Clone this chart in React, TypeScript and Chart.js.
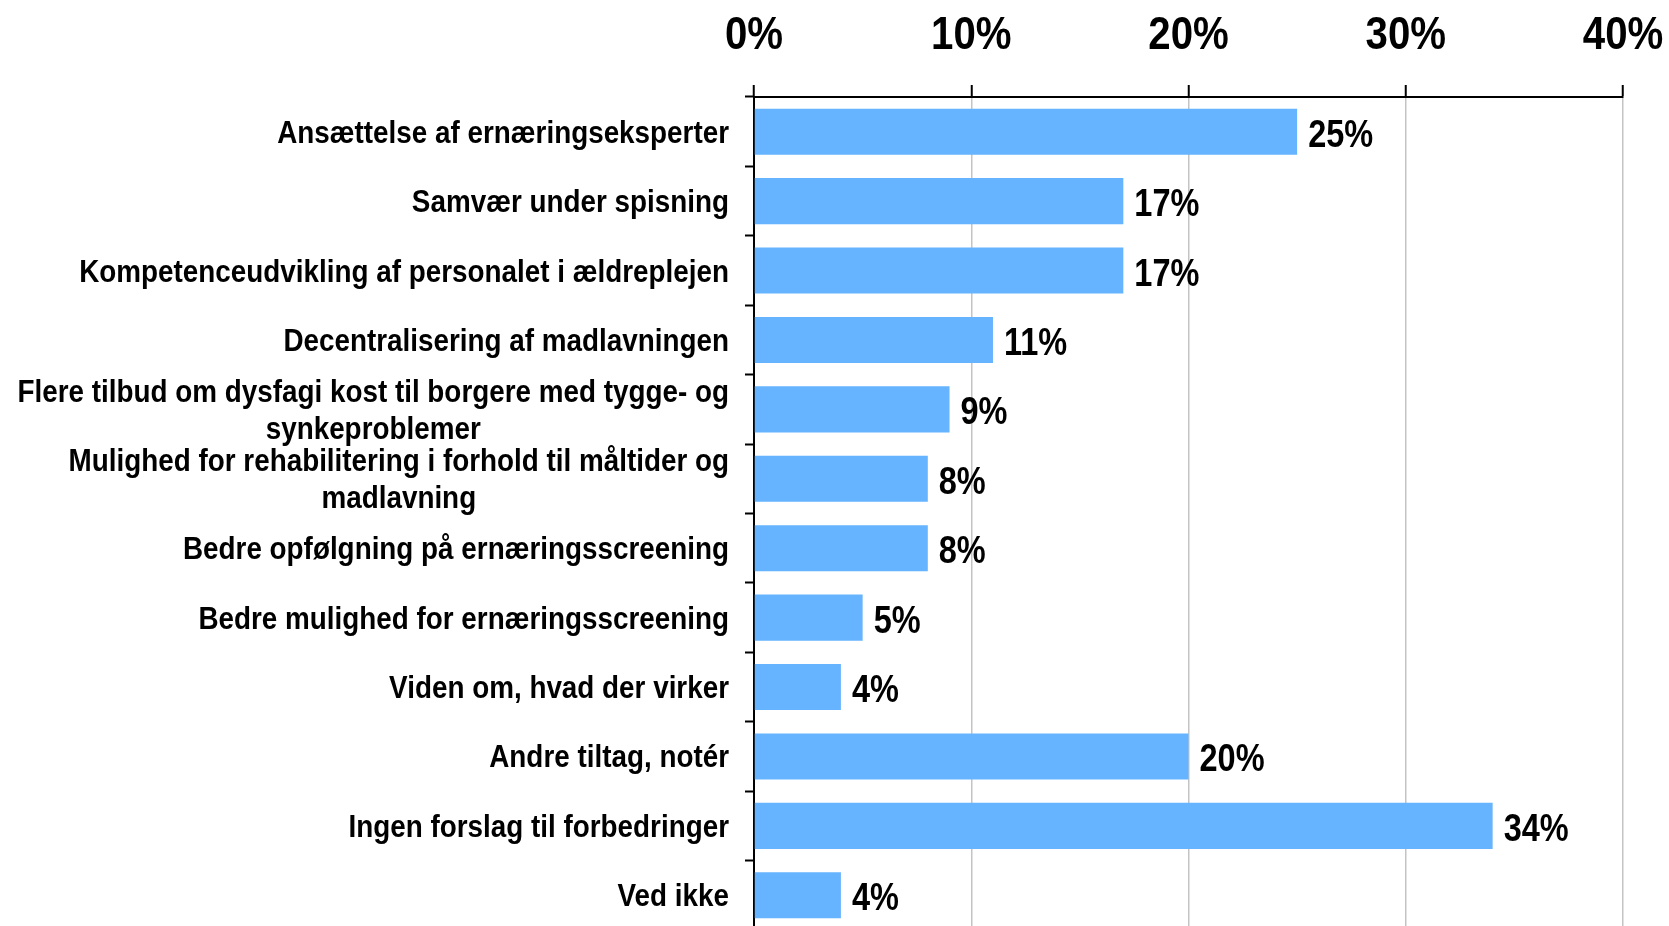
import React, { useEffect, useRef } from "react";
import { Chart, registerables } from "chart.js";

Chart.register(...registerables);

const categories: (string | string[])[] = [
  "Ansættelse af ernæringseksperter",
  "Samvær under spisning",
  "Kompetenceudvikling af personalet i ældreplejen",
  "Decentralisering af madlavningen",
  ["Flere tilbud om dysfagi kost til borgere med tygge- og", "synkeproblemer"],
  ["Mulighed for rehabilitering i forhold til måltider og", "madlavning"],
  "Bedre opfølgning på ernæringsscreening",
  "Bedre mulighed for ernæringsscreening",
  "Viden om, hvad der virker",
  "Andre tiltag, notér",
  "Ingen forslag til forbedringer",
  "Ved ikke",
];

const values = [25, 17, 17, 11, 9, 8, 8, 5, 4, 20, 34, 4];

const xMin = 0;
const xMax = 40;
const xStep = 10;
const xTickLabels = ["0%", "10%", "20%", "30%", "40%"];

const FAMILY = "'Liberation Sans', Arial, sans-serif";
const BAR_COLOR = "#66b3ff";
const SX = 0.855; // narrow (condensed) look for numbers
const SX_CAT = 0.87; // narrow look for category labels

function drawNarrow(ctx: any, text: string, x: number, y: number, align: "left" | "right" | "center", sx: number = SX) {
  ctx.save();
  ctx.translate(x, y);
  ctx.scale(sx, 1);
  ctx.textAlign = align;
  ctx.fillText(text, 0, 0);
  ctx.restore();
}

const textPlugin = {
  id: "textLabels",
  afterDraw(chart: any) {
    const ctx = chart.ctx;
    const yScale = chart.scales.y;
    const xScale = chart.scales.x;
    ctx.save();
    ctx.fillStyle = "#000";
    ctx.textBaseline = "alphabetic";

    // category labels (right-aligned block, lines centred within block)
    ctx.font = `bold 32px ${FAMILY}`;
    const rightEdge = chart.chartArea.left - 25;
    const lineH = 37;
    categories.forEach((label, i) => {
      const y = yScale.getPixelForTick(i);
      const lines = Array.isArray(label) ? label : [label];
      const maxW = Math.max(...lines.map((l) => ctx.measureText(l).width)) * SX_CAT;
      const cx = rightEdge - maxW / 2;
      lines.forEach((l, k) => {
        const by = y + 11 + (k - (lines.length - 1) / 2) * lineH;
        drawNarrow(ctx, l, cx, by, "center", SX_CAT);
      });
    });

    // x tick labels (top)
    ctx.font = `bold 47px ${FAMILY}`;
    xScale.ticks.forEach((t: any, i: number) => {
      const px = xScale.getPixelForValue(t.value);
      drawNarrow(ctx, xTickLabels[i] ?? t.value + "%", px, 49, "center");
    });
    ctx.restore();
  },
  afterDatasetsDraw(chart: any) {
    const ctx = chart.ctx;
    const meta = chart.getDatasetMeta(0);
    ctx.save();
    ctx.fillStyle = "#000";
    ctx.font = `bold 38px ${FAMILY}`;
    ctx.textBaseline = "alphabetic";
    meta.data.forEach((bar: any, i: number) => {
      drawNarrow(ctx, values[i] + "%", bar.x + 11, bar.y + 15, "left");
    });
    ctx.restore();
  },
};

export default function App() {
  const canvasRef = useRef<HTMLCanvasElement | null>(null);

  useEffect(() => {
    const canvas = canvasRef.current;
    if (!canvas) return;
    const chart = new Chart(canvas, {
      type: "bar",
      data: {
        labels: categories as any,
        datasets: [
          {
            data: values,
            backgroundColor: BAR_COLOR,
            borderWidth: 0,
            barPercentage: 0.665,
            categoryPercentage: 1,
          },
        ],
      },
      options: {
        indexAxis: "y",
        animation: false,
        responsive: false,
        maintainAspectRatio: false,
        layout: { padding: { left: 0, right: 46, top: 0, bottom: 2 } },
        plugins: {
          legend: { display: false },
          tooltip: { enabled: false },
        },
        scales: {
          x: {
            position: "top",
            min: xMin,
            max: xMax,
            afterFit: (s: any) => {
              s.height = 97;
            },
            ticks: {
              stepSize: xStep,
              display: false,
            },
            grid: {
              color: "#c4c4c4",
              lineWidth: 1.5,
              tickColor: "#000",
              tickLength: 12,
              tickWidth: 2,
            },
            border: { color: "#000", width: 2 },
          },
          y: {
            afterFit: (s: any) => {
              s.width = 754;
            },
            ticks: { display: false },
            grid: {
              drawOnChartArea: false,
              offset: true,
              tickColor: "#000",
              tickLength: 9,
              tickWidth: 2,
            },
            border: { color: "#000", width: 2 },
          },
        },
      },
      plugins: [textPlugin],
    });
    return () => chart.destroy();
  }, []);

  return (
    <div
      style={{
        position: "fixed",
        left: 0,
        top: 0,
        width: 1669,
        height: 926,
        overflow: "hidden",
        background: "#fff",
      }}
    >
      <canvas ref={canvasRef} width={1669} height={932} style={{ display: "block", width: 1669, height: 932 }} />
    </div>
  );
}
